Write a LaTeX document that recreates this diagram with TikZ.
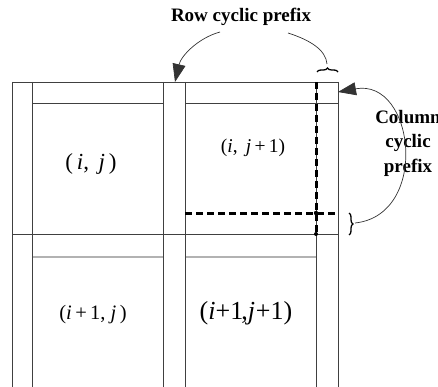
\documentclass[tikz,border=0pt]{standalone}
\usepackage{fontspec}
\setmainfont{Liberation Serif}
\usetikzlibrary{arrows.meta,decorations.pathreplacing}
\begin{document}
\begin{tikzpicture}[x=1pt,y=-1pt,
  grid/.style={draw=black!75,line width=0.9pt},
  lgrid/.style={draw=black!30,line width=1.8pt},
  cpdash/.style={draw=black,line width=3pt,dash pattern=on 7pt off 4pt},
  lbl/.style={font=\fontsize{19}{24.5}\selectfont\bfseries,inner sep=0pt,align=center},
  cell/.style={inner sep=0pt},
  curve/.style={draw=black!80,line width=0.7pt},
  bigtip/.style={-{Triangle[length=18pt,width=13pt]}},
  brc/.style={draw=black,line width=1.3pt,decorate,decoration={brace,amplitude=4pt}}]
\useasboundingbox (0,0) rectangle (438,387);
% grid
\draw[grid] (12,82) -- (338,82);
\draw[grid] (12,234) -- (338,234);
\draw[grid] (32,103) -- (163,103);
\draw[grid] (185,103) -- (338,103);
\draw[lgrid] (32,257) -- (163,257);
\draw[lgrid] (185,257) -- (316,257);
\foreach \x in {12,32,163,185,316,338} \draw[grid] (\x,82) -- (\x,387);
% dashed lines
\draw[cpdash] (316,82) -- (316,234);
\draw[cpdash] (185,213) -- (338,213);
\fill (316,213) circle (2.2pt);
\fill (316,234) circle (2pt);
% cell labels
\node[cell,font=\fontsize{23}{23}\selectfont] (c11) at (91,164) {(\,\textit{i}, \,\textit{j}\,)};
\node[cell,font=\fontsize{19.5}{20}\selectfont] (c12) at (253,148) {(\textit{i}, \,\textit{j}\,+\,1)};
\node[cell,font=\fontsize{20.5}{21}\selectfont] (c21) at (93,315) {(\textit{i}\,+\,1, \textit{j}\,)};
\node[cell,font=\fontsize{26}{26}\selectfont] (c22) at (246,313) {(\textit{i}+1\kern-2pt,\textit{j}\kern1pt+1)};
% labels
\node[lbl] (rowlbl) at (241,17) {Row cyclic prefix};
\node[lbl] (collbl) at (408,143) {Column\\cyclic\\prefix};
% braces
\coordinate (tb1) at (317,72);
\coordinate (tb2) at (338,72);
\draw[brc] (tb1) -- (tb2);
\coordinate (rb1) at (349,213);
\coordinate (rb2) at (349,235);
\draw[brc] (rb1) -- (rb2);
% connectors
\coordinate (rowA) at (220,32);
\coordinate (rowtip) at (175,82);
\coordinate (rowB) at (288,33);
\coordinate (topbr) at (327,64);
\coordinate (colA) at (355,223);
\coordinate (coltip) at (338,92);
\draw[curve,bigtip] (rowA) .. controls (198,38) and (181,56) .. (rowtip);
\draw[curve] (rowB) .. controls (310,40) and (326,50) .. (topbr);
\draw[curve,bigtip] (colA) .. controls (430,215) and (415,78) .. (coltip);
\end{tikzpicture}
\end{document}
